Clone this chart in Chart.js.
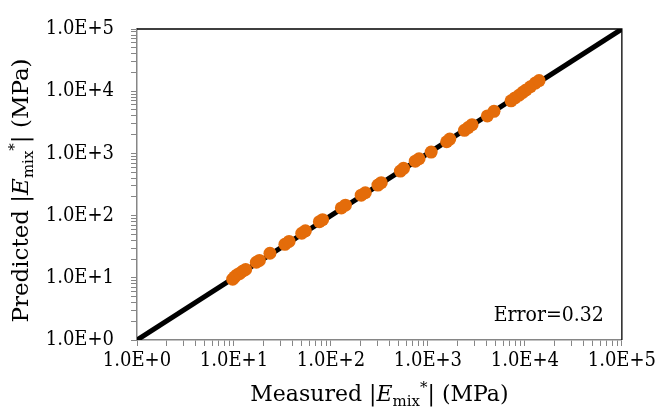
<!DOCTYPE html>
<html>
<head>
<meta charset="utf-8">
<script src="https://cdn.jsdelivr.net/npm/chart.js@4"></script>
<style>
    body { margin: 0; background: #fff; }
    #wrap { width: 659px; height: 415px; }
</style>
</head>
<body>
<div id="wrap"><canvas id="canvas_emix"></canvas></div>
<script>
// measured vs predicted |E*mix| (MPa)
var measured = [9.7, 10.2, 10.8, 11.5, 12.4, 13.2, 17.0, 18.3, 23.5, 33.5, 37.0, 50.0, 54.5, 76.0, 82.0,
    128, 141, 205, 226, 305, 330, 520, 560, 740, 810, 1080, 1560, 1680, 2380, 2600, 2850,
    4100, 4800, 7200, 7900, 8700, 9500, 10300, 11400, 12800, 14000];
var predicted = [9.5, 10.4, 11.2, 11.8, 12.9, 13.6, 17.8, 19.0, 24.8, 34.5, 38.5, 52.0, 57.0, 80.0, 86.0,
    133, 147, 213, 233, 310, 338, 520, 575, 750, 820, 1050, 1540, 1700, 2350, 2600, 2900,
    4000, 4750, 7000, 7800, 8600, 9600, 10500, 11800, 13500, 14800];

// line of equality
var line_x = [1, 100000];
var line_y = [1, 100000];

var axis_min = 1;
var axis_max = 100000;
var error_label = "Error=0.32";

var FONT = "'DejaVu Serif Condensed', 'DejaVu Serif', serif";
var TITLE_FONT = "'DejaVu Serif', serif";
var GREY = "#868686";

function logTicks(scale) {
    var ticks = [];
    for (var e = 0; e <= 5; e++) {
        for (var m = 1; m <= 9; m++) {
            var v = m * Math.pow(10, e);
            if (v > axis_max) break;
            ticks.push({value: v, major: m == 1});
        }
    }
    scale.ticks = ticks;
}

function sciLabel(value) {
    var e = Math.round(Math.log10(value));
    if (Math.abs(value - Math.pow(10, e)) < 1e-6 * value) {
        return "1.0E+" + e;
    }
    return "";
}

// draw "<pre> |E_mix*| (MPa)" with italic E, subscript and superscript
function richTitle(ctx, pre, cx, cy, size) {
    var small = Math.round(size * 0.66);
    var parts = [
        {t: pre + " |", f: size + "px " + TITLE_FONT, dy: 0},
        {t: "E", f: "italic " + size + "px " + TITLE_FONT, dy: 0},
        {t: "mix", f: small + "px " + TITLE_FONT, dy: 5},
        {t: "*", f: small + "px " + TITLE_FONT, dy: -9},
        {t: "| (MPa)", f: size + "px " + TITLE_FONT, dy: 0}
    ];
    var total = 0;
    for (var i in parts) {
        ctx.font = parts[i].f;
        parts[i].w = ctx.measureText(parts[i].t).width;
        total += parts[i].w;
    }
    var x = cx - total / 2;
    ctx.fillStyle = "#000";
    ctx.textBaseline = "alphabetic";
    ctx.textAlign = "left";
    for (var i in parts) {
        ctx.font = parts[i].f;
        ctx.fillText(parts[i].t, x, cy + parts[i].dy);
        x += parts[i].w;
    }
}

var decorPlugin = {
    id: "decor",
    afterDraw: function(chart) {
        var ctx = chart.ctx;
        var a = chart.chartArea;
        ctx.save();
        // top and right border of the plot area
        ctx.strokeStyle = "#000";
        ctx.lineWidth = 1.3;
        ctx.beginPath();
        ctx.moveTo(a.left, a.top);
        ctx.lineTo(a.right, a.top);
        ctx.lineTo(a.right, a.bottom);
        ctx.stroke();

        // x title
        richTitle(ctx, "Measured", (a.left + a.right) / 2, 401, 22);

        // y title (rotated)
        ctx.save();
        ctx.translate(28, (a.top + a.bottom) / 2 + 6);
        ctx.rotate(-Math.PI / 2);
        richTitle(ctx, "Predicted", 0, 0, 23);
        ctx.restore();

        // error annotation
        ctx.font = "21px " + FONT;
        ctx.fillStyle = "#000";
        ctx.textAlign = "right";
        ctx.textBaseline = "alphabetic";
        ctx.fillText(error_label, a.right - 18, a.bottom - 19);
        ctx.restore();
    }
};

var points = [];
for (var i in measured) {
    points.push({x: measured[i], y: predicted[i]});
}
var line_pts = [];
for (var i in line_x) {
    line_pts.push({x: line_x[i], y: line_y[i]});
}

var ctx = document.getElementById("canvas_emix").getContext("2d");
var chart = new Chart(ctx, {
    type: "scatter",
    data: {
        datasets: [{
            label: "data",
            data: points,
            pointRadius: 6.5,
            pointBackgroundColor: "#E46C0A",
            pointBorderColor: "#E46C0A",
            pointBorderWidth: 0
        }, {
            type: "line",
            label: "equality",
            data: line_pts,
            borderColor: "#000",
            borderWidth: 5,
            pointRadius: 0,
            fill: false
        }]
    },
    options: {
        responsive: true,
        maintainAspectRatio: false,
        animation: false,
        layout: {padding: {left: 0, top: 17, right: 36, bottom: 0}},
        plugins: {
            legend: {display: false},
            tooltip: {enabled: false}
        },
        scales: {
            x: {
                type: "logarithmic",
                min: axis_min,
                max: axis_max,
                afterBuildTicks: logTicks,
                afterFit: function(s) { s.height = 75; },
                grid: {drawOnChartArea: false, drawTicks: true, tickLength: 6, color: GREY},
                border: {color: GREY, width: 1.5},
                ticks: {
                    autoSkip: false,
                    maxRotation: 0,
                    padding: 3,
                    color: "#000",
                    font: {family: FONT, size: 20},
                    callback: function(v) { return sciLabel(v); }
                }
            },
            y: {
                type: "logarithmic",
                min: axis_min,
                max: axis_max,
                afterBuildTicks: logTicks,
                afterFit: function(s) { s.width = 137; },
                grid: {drawOnChartArea: false, drawTicks: true, tickLength: 6, color: GREY},
                border: {color: GREY, width: 1.5},
                ticks: {
                    autoSkip: false,
                    padding: 17,
                    color: "#000",
                    font: {family: FONT, size: 20},
                    callback: function(v) { return sciLabel(v); }
                }
            }
        }
    },
    plugins: [decorPlugin]
});
</script>
</body>
</html>
